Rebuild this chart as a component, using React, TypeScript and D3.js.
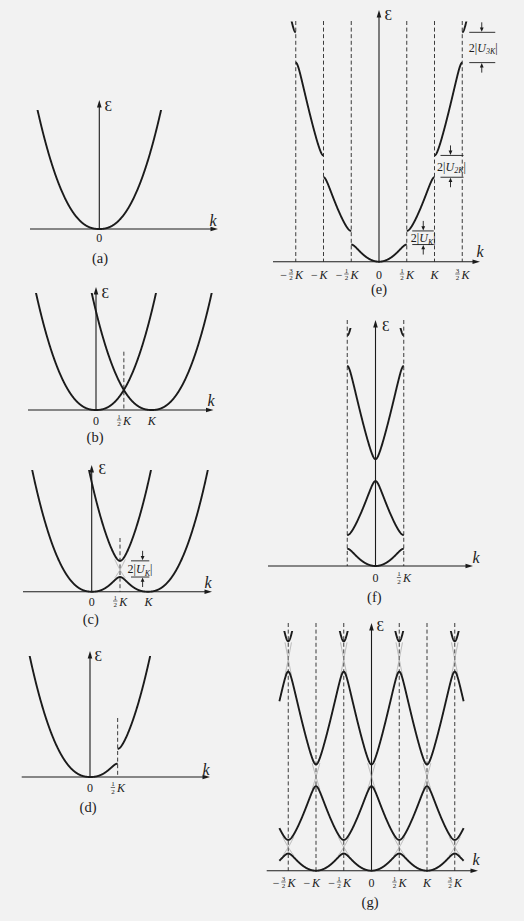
import React from "react";
import * as d3 from "d3";

// k is measured in units of K, energies in units of ħ²K²/2m,
// so a free electron follows ε = k².

// Fourier components |U_nK| of the lattice potential (half of the gaps in e–g)
const potentialOrders = [1, 2, 3];
const potentialHalfGaps = [0.088, 0.12, 0.152];
const gapSubscripts = ["K", "2K", "3K"];

// the single weak component used in (c) and (d)
const weakOrders = [1];
const weakHalfGaps = [0.08];

// free-electron parabolas ε = (k − nK)² centred on these n
const parabolaCentres = [0, 1];

// Bragg planes and tick positions along k
const zonePlanes = [-1.5, -1, -0.5, 0.5, 1, 1.5];
const zoneTicks = [-1.5, -1, -0.5, 0, 0.5, 1, 1.5];
const reducedTicks = [0, 0.5];
const halfZoneTicks = [0, 0.5, 1];
const originTicks = [0];

const bandNumbers = [1, 2, 3, 4];

const ink = "#1b1b1b";
const faint = "#8c8c8c";

// ---------- nearly-free-electron bands (central equation) ----------
function symmetricEigenvalues(M: number[][]): number[] {
  const n = M.length;
  const a = M.map((r) => r.slice());
  for (let sweep = 0; sweep < 60; sweep++) {
    let off = 0;
    for (let p = 0; p < n; p++) for (let q = p + 1; q < n; q++) off += a[p][q] * a[p][q];
    if (off < 1e-20) break;
    for (let p = 0; p < n; p++) {
      for (let q = p + 1; q < n; q++) {
        const apq = a[p][q];
        if (Math.abs(apq) < 1e-14) continue;
        const theta = (a[q][q] - a[p][p]) / (2 * apq);
        const t = (theta >= 0 ? 1 : -1) / (Math.abs(theta) + Math.sqrt(theta * theta + 1));
        const c = 1 / Math.sqrt(t * t + 1);
        const s = t * c;
        for (let k = 0; k < n; k++) {
          const akp = a[k][p], akq = a[k][q];
          a[k][p] = c * akp - s * akq;
          a[k][q] = s * akp + c * akq;
        }
        for (let k = 0; k < n; k++) {
          const apk = a[p][k], aqk = a[q][k];
          a[p][k] = c * apk - s * aqk;
          a[q][k] = s * apk + c * aqk;
        }
      }
    }
  }
  return a.map((r, i) => r[i]).sort((x, y) => x - y);
}

function makeBands(basis: number[], orders: number[], halfGaps: number[]) {
  const U = new Map(orders.map((o, i) => [o, halfGaps[i]]));
  const cache = new Map<number, number[]>();
  const at = (k: number) => {
    const key = Math.round(k * 1e5);
    let v = cache.get(key);
    if (!v) {
      const H = basis.map((ni, i) =>
        basis.map((nj, j) => (i === j ? (k - ni) ** 2 : U.get(Math.abs(ni - nj)) ?? 0))
      );
      v = symmetricEigenvalues(H);
      cache.set(key, v);
    }
    return v;
  };
  const floor = at(0)[0];
  return (band: number, k: number) => at(k)[band - 1] - floor;
}

const fullBands = makeBands(d3.range(-5, 6), potentialOrders, potentialHalfGaps);
const weakBands = makeBands(parabolaCentres, weakOrders, weakHalfGaps);
const freeParabola = (n: number, k: number) => (k - n) ** 2;

const sampleK = (lo: number, hi: number, step = 0.004) => [...d3.range(lo, hi, step), hi];

// ---------- panel frames ----------
type Frame = {
  id: string; x0: number; kPx: number; y0: number; ePx: number; exponent: number;
  yTip: number; top: number; xl: number; xr: number;
  eps: [number, number]; kLab: [number, number]; tickY: number; letter: [number, number];
};

const frames: Record<string, Frame> = {
  a: { id: "a", x0: 99.3, kPx: 56, y0: 229, ePx: 95, exponent: 1.15, yTip: 100, top: 110, xl: 30, xr: 218, eps: [104.5, 111], kLab: [209.5, 226], tickY: 242, letter: [100, 263] },
  b: { id: "b", x0: 96, kPx: 55.7, y0: 410, ePx: 98.6, exponent: 1.15, yTip: 287, top: 293, xl: 28, xr: 213.5, eps: [101.5, 298], kLab: [207.5, 406], tickY: 424.5, letter: [95, 442] },
  c: { id: "c", x0: 91.7, kPx: 56.6, y0: 591.7, ePx: 108, exponent: 1.15, yTip: 465, top: 470, xl: 23, xr: 212, eps: [98.5, 474], kLab: [204.5, 588], tickY: 605.5, letter: [90.7, 624] },
  d: { id: "d", x0: 90, kPx: 55.3, y0: 777, ePx: 98.6, exponent: 1.15, yTip: 651, top: 656, xl: 21.7, xr: 210, eps: [94.5, 661], kLab: [202.5, 775], tickY: 792, letter: [88, 812] },
  e: { id: "e", x0: 379, kPx: 55.5, y0: 261.7, ePx: 94, exponent: 1, yTip: 10, top: 21.5, xl: 273, xr: 480, eps: [384.5, 19.5], kLab: [476.5, 257], tickY: 278.5, letter: [379, 293.5] },
  f: { id: "f", x0: 375.5, kPx: 56.5, y0: 566, ePx: 94.5, exponent: 1, yTip: 320, top: 328, xl: 268, xr: 473, eps: [382, 331], kLab: [472.5, 563], tickY: 582, letter: [374.3, 602] },
  g: { id: "g", x0: 371.5, kPx: 55.5, y0: 870.7, ePx: 94, exponent: 1, yTip: 623, top: 631, xl: 266.7, xr: 478, eps: [376.5, 630.5], kLab: [472.5, 865], tickY: 886.5, letter: [370, 907] },
};

function scalesFor(f: Frame) {
  const x = d3.scaleLinear().domain([0, 1]).range([f.x0, f.x0 + f.kPx]);
  const y = d3.scalePow().exponent(f.exponent).domain([0, 1]).range([f.y0, f.y0 - f.ePx]);
  return { x, y };
}

function curve(f: Frame, fn: (k: number) => number, lo: number, hi: number, step?: number) {
  const { x, y } = scalesFor(f);
  return d3.line<number>().x((k) => x(k)).y((k) => y(fn(k)))(sampleK(lo, hi, step)) ?? "";
}

// ---------- small drawing pieces ----------
function KLabel({ x, y, v }: { x: number; y: number; v: number }) {
  if (v === 0) return <text x={x} y={y} fontSize={12} textAnchor="middle">0</text>;
  const a = Math.abs(v);
  const num = a % 1 === 0 ? null : Math.round(a * 2);
  const fw = num ? 5 : 0;
  const kw = 8.2;
  const total = fw + (num ? 1.3 : 0) + kw;
  const left = x - total / 2;
  return (
    <g fontSize={12}>
      {v < 0 && <text x={left - 1.5} y={y} textAnchor="end">−</text>}
      {num && (
        <g fontSize={7} textAnchor="middle">
          <text x={left + fw / 2} y={y - 5.6}>{num}</text>
          <line x1={left + 0.3} x2={left + fw - 0.3} y1={y - 4.5} y2={y - 4.5} stroke={ink} strokeWidth={0.6} />
          <text x={left + fw / 2} y={y + 1.6}>2</text>
        </g>
      )}
      <text x={left + total} y={y} textAnchor="end" fontStyle="italic">K</text>
    </g>
  );
}

function GapNote({ xc, xt, x1, x2, yTop, yBot, sub }: { xc: number; xt: number; x1: number; x2: number; yTop: number; yBot: number; sub: string }) {
  return (
    <g>
      <g stroke={ink} strokeWidth={0.9}>
        <line x1={x1} x2={x2} y1={yTop} y2={yTop} />
        <line x1={x1} x2={x2} y1={yBot} y2={yBot} />
        <line x1={xc} x2={xc} y1={yTop - 10} y2={yTop - 3} />
        <line x1={xc} x2={xc} y1={yBot + 10} y2={yBot + 3} />
      </g>
      <path d={`M${xc},${yTop - 0.5}L${xc - 1.9},${yTop - 4.8}L${xc + 1.9},${yTop - 4.8}Z`} fill={ink} />
      <path d={`M${xc},${yBot + 0.5}L${xc - 1.9},${yBot + 4.8}L${xc + 1.9},${yBot + 4.8}Z`} fill={ink} />
      <text x={xt} y={(yTop + yBot) / 2 + 4.3} textAnchor="middle" fontSize={12} fill={ink}>
        2|<tspan fontStyle="italic">U</tspan>
        <tspan fontStyle="italic" fontSize={8} dy={2.5}>{sub}</tspan>
        <tspan dy={-2.5}>|</tspan>
      </text>
    </g>
  );
}

type PanelProps = {
  f: Frame;
  ticks: number[];
  curves: string[];
  faintPaths?: string[];
  dashed?: { k: number; from: number }[];
  extra?: React.ReactNode;
};

function Panel({ f, ticks, curves, faintPaths = [], dashed = [], extra }: PanelProps) {
  const { x } = scalesFor(f);
  return (
    <g>
      <defs>
        <clipPath id={`clip-${f.id}`}>
          <rect x={0} y={f.top} width={524} height={f.y0 - f.top + 6} />
        </clipPath>
      </defs>
      {dashed.map((d) => (
        <line key={d.k} x1={x(d.k)} x2={x(d.k)} y1={d.from} y2={f.y0} stroke={ink} strokeWidth={0.85} strokeDasharray="4 2.6" />
      ))}
      <line x1={f.xl} x2={f.xr - 5} y1={f.y0} y2={f.y0} stroke={ink} strokeWidth={1.1} />
      <path d={`M${f.xr},${f.y0}L${f.xr - 7.5},${f.y0 - 2.3}L${f.xr - 7.5},${f.y0 + 2.3}Z`} fill={ink} />
      <line x1={f.x0} x2={f.x0} y1={f.y0} y2={f.yTip + 5} stroke={ink} strokeWidth={1.1} />
      <path d={`M${f.x0},${f.yTip}L${f.x0 - 2.3},${f.yTip + 7.5}L${f.x0 + 2.3},${f.yTip + 7.5}Z`} fill={ink} />
      <text x={f.eps[0]} y={f.eps[1]} fontSize={15}>Ɛ</text>
      <text x={f.kLab[0]} y={f.kLab[1]} fontSize={16} fontStyle="italic">k</text>
      <text x={f.letter[0]} y={f.letter[1]} fontSize={14.5} textAnchor="middle">({f.id})</text>
      {ticks.map((v) => <KLabel key={v} x={x(v)} y={f.tickY} v={v} />)}
      <g clipPath={`url(#clip-${f.id})`} fill="none">
        {faintPaths.map((d, i) => <path key={`f${i}`} d={d} stroke={faint} strokeWidth={0.6} />)}
        {curves.map((d, i) => <path key={i} d={d} stroke={ink} strokeWidth={1.9} strokeLinejoin="round" />)}
      </g>
      {extra}
    </g>
  );
}

// ---------- the seven panels ----------
function faintCross(f: Frame, n1: number, n2: number, kc: number, half: number) {
  return [n1, n2].map((n) => curve(f, (k) => freeParabola(n, k), kc - half, kc + half, 0.002));
}

export default function App() {
  const { a, b, c, d, e, f, g } = frames;

  // (a) free electron
  const curvesA = [curve(a, (k) => freeParabola(0, k), -1.4, 1.4)];

  // (b) two free parabolas
  const curvesB = parabolaCentres.map((n) => curve(b, (k) => freeParabola(n, k), -1.4, 2.4));

  // (c) gap opened at ½K, both branches over the whole range
  const curvesC = [1, 2].map((n) => curve(c, (k) => weakBands(n, k), -1.4, 2.4));
  const faintC = faintCross(c, 0, 1, 0.5, (1.15 * weakHalfGaps[0]) / 1);
  const sc = scalesFor(c);
  const noteC = (
    <GapNote
      xc={sc.x(0.5) + 22.6} xt={sc.x(0.5) + 20} x1={sc.x(0.5) + 11} x2={sc.x(0.5) + 29.3}
      yTop={sc.y(weakBands(2, 0.5))} yBot={sc.y(weakBands(1, 0.5))} sub={gapSubscripts[0]}
    />
  );

  // (d) only the physically relevant branch on each side of ½K
  const curvesD = [curve(d, (k) => weakBands(1, k), -1.4, 0.5), curve(d, (k) => weakBands(2, k), 0.5, 1.5)];

  // (e) extended-zone scheme
  const curvesE = bandNumbers.flatMap((n) => {
    const lo = (n - 1) / 2;
    const hi = n === 4 ? 1.8 : n / 2;
    if (n === 1) return [curve(e, (k) => fullBands(1, k), -0.5, 0.5)];
    return [curve(e, (k) => fullBands(n, k), lo, hi), curve(e, (k) => fullBands(n, k), -hi, -lo)];
  });
  const se = scalesFor(e);
  const noteOffsets = [
    { x1: 5.5, x2: 27, xc: 16.5, xt: 16.5 },
    { x1: 6, x2: 29, xc: 16, xt: 17 },
    { x1: 7, x2: 33, xc: 19.5, xt: 21 },
  ];
  const notesE = potentialOrders.map((o, i) => {
    const kb = o / 2;
    const xb = se.x(kb);
    const off = noteOffsets[i];
    return (
      <GapNote
        key={o} xc={xb + off.xc} xt={xb + off.xt} x1={xb + off.x1} x2={xb + off.x2}
        yTop={se.y(fullBands(o + 1, kb))} yBot={se.y(fullBands(o, kb))} sub={gapSubscripts[i]}
      />
    );
  });

  // (f) reduced-zone scheme
  const curvesF = bandNumbers.map((n) => curve(f, (k) => fullBands(n, k), -0.5, 0.5));

  // (g) repeated-zone scheme with the free-electron crossings faintly shown
  const curvesG = bandNumbers.map((n) => curve(g, (k) => fullBands(n, k), -1.66, 1.66));
  const faintG = potentialOrders.flatMap((G, i) =>
    d3.range(-4, 5)
      .map((n1) => ({ n1, n2: n1 + G, kc: n1 + G / 2 }))
      .filter((cr) => Math.abs(cr.kc) <= 1.6)
      .flatMap((cr) => faintCross(g, cr.n1, cr.n2, cr.kc, (1.15 * potentialHalfGaps[i]) / G))
  );

  return (
    <svg
      width={524}
      height={921}
      style={{ position: "absolute", left: 0, top: 0, display: "block" }}
      fontFamily="'Liberation Serif', 'DejaVu Serif', serif"
      fill={ink}
    >
      <rect width={524} height={921} fill="#f2f2f2" />
      <Panel f={a} ticks={originTicks} curves={curvesA} />
      <Panel f={b} ticks={halfZoneTicks} curves={curvesB} dashed={[{ k: 0.5, from: 351.7 }]} />
      <Panel f={c} ticks={halfZoneTicks} curves={curvesC} faintPaths={faintC} dashed={[{ k: 0.5, from: 538 }]} extra={noteC} />
      <Panel f={d} ticks={reducedTicks} curves={curvesD} dashed={[{ k: 0.5, from: 718 }]} />
      <Panel f={e} ticks={zoneTicks} curves={curvesE} dashed={zonePlanes.map((k) => ({ k, from: 21 }))} extra={notesE} />
      <Panel f={f} ticks={reducedTicks} curves={curvesF} dashed={[-0.5, 0.5].map((k) => ({ k, from: 320 }))} />
      <Panel f={g} ticks={zoneTicks} curves={curvesG} faintPaths={faintG} dashed={zonePlanes.map((k) => ({ k, from: 623 }))} />
    </svg>
  );
}
